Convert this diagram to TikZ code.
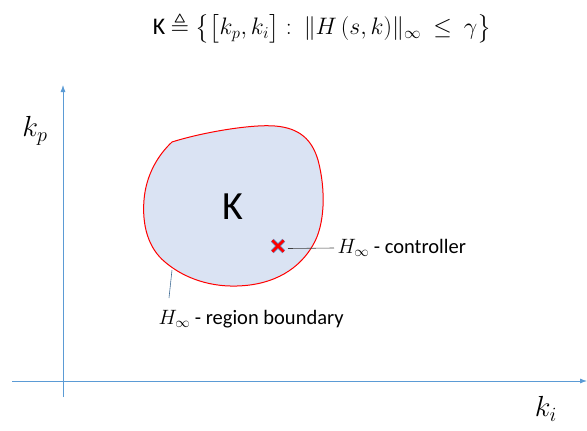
\documentclass[tikz,border=0pt]{standalone}
\usepackage{amsmath,amssymb}
\usepackage{fontspec}
\setmainfont{Carlito}
\usetikzlibrary{arrows.meta}
\definecolor{axisblue}{HTML}{5B9BD5}
\definecolor{blobfill}{HTML}{DAE3F3}
\definecolor{leadgray}{HTML}{404040}
\tikzset{
  axis/.style={draw=axisblue,line width=.8pt,-{Latex[length=7pt,width=5pt]}},
  lead/.style={draw=leadgray,line width=.6pt},
  lbl/.style={font=\fontsize{20.5}{24}\selectfont,anchor=west},
  axlbl/.style={font=\fontsize{20.74}{24}\selectfont,scale=1.4}
}
\begin{document}
\begin{tikzpicture}[x=1pt,y=-1pt]
 \useasboundingbox (0,0) rectangle (587,431);
 % title
 \node[scale=1.15,inner sep=0pt] (title) at (322,28) {\fontsize{20.74}{24}\selectfont
   K $\triangleq \bigl\{\bigl[k_p,k_i\bigr]:\ \|H\,(s,k)\|_\infty\ \leq\ \gamma\bigr\}$};
 % axes
 \draw[axis] (63,397) -- (63,85);
 \draw[axis] (12,381) -- (587,381);
 \node[axlbl] (kp) at (35,131) {$k_p$};
 \node[axlbl] (ki) at (546,409) {$k_i$};
 % region
 \draw[red,line width=1pt,fill=blobfill]
   (172,142) .. controls (200,133) and (250,124) .. (275,126)
   .. controls (300,128) and (312,140) .. (318,160)
   .. controls (326,190) and (325,225) .. (313,245)
   .. controls (300,268) and (275,285) .. (237,286)
   .. controls (205,287) and (180,275) .. (165,262)
   .. controls (148,248) and (142,225) .. (144,200)
   .. controls (146,175) and (158,155) .. (172,142) -- cycle;
 \node (K) at (233,207) {\fontsize{40}{44}\selectfont K};
 % controller
 \node[inner sep=0pt,minimum size=11pt] (ctrl) at (278,246) {};
 \draw[axisblue,line width=4pt] (ctrl.north west) -- (ctrl.south east)
   (ctrl.north east) -- (ctrl.south west);
 \draw[red,line width=2.6pt] (ctrl.north west) -- (ctrl.south east)
   (ctrl.north east) -- (ctrl.south west);
 \node[lbl] (ctrllbl) at (334,248) {$H_\infty$ - controller};
 \draw[lead] (288,248.5) -- (ctrllbl.west);
 % boundary
 \coordinate (bnd) at (172,270);
 \node[lbl] (bndlbl) at (155,319) {$H_\infty$ - region boundary};
 \coordinate (bndend) at (169,298);
 \draw[lead,draw=axisblue!70!black] (bnd) -- (bndend);
\end{tikzpicture}
\end{document}
